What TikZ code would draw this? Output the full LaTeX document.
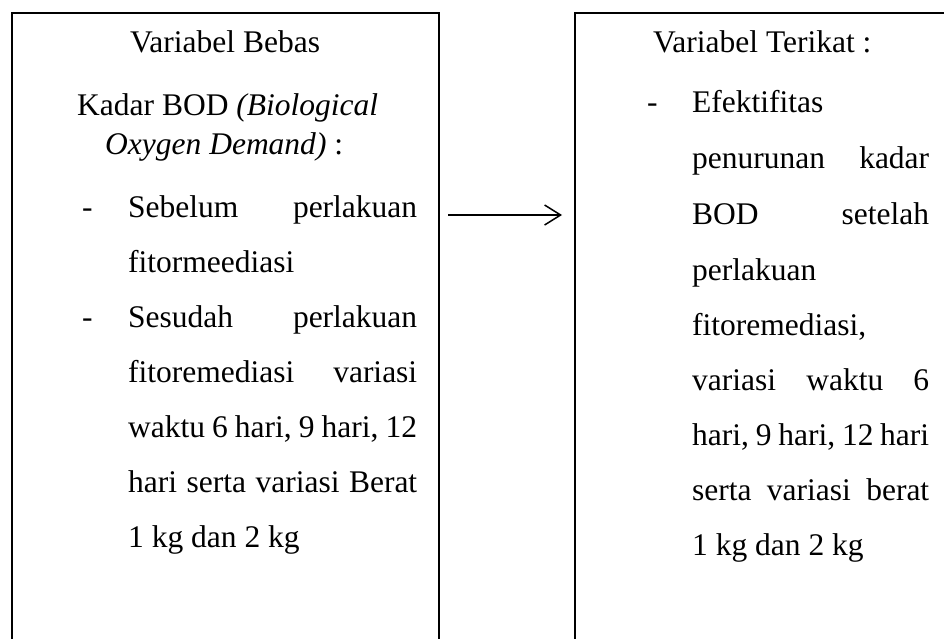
\documentclass[tikz,border=0pt]{standalone}
\usepackage{fontspec}
\setmainfont{Liberation Serif}
\usetikzlibrary{arrows.meta}
\newlength\colL \setlength\colL{289pt}
\newlength\colR \setlength\colR{237pt}
\newcommand\jlL[1]{\hbox to \colL{#1}}
\newcommand\jlR[1]{\hbox to \colR{#1}}
\begin{document}
\begin{tikzpicture}[x=1pt,y=-1pt,
  boxstyle/.style={draw=black,line width=2pt,rectangle,inner sep=0pt},
  txt/.style={inner sep=0pt,anchor=base west,font=\fontsize{31.5}{37}\selectfont},
  arr/.style={line width=1.5pt,-{Straight Barb[length=16pt,width=20pt,line width=1.5pt]}}]
\useasboundingbox (0,0) rectangle (944,639);
\clip (0,0) rectangle (944,639);
\fill[white] (0,0) rectangle (944,639);
% boxes
\node[boxstyle,minimum width=427pt,minimum height=660pt,anchor=north west] (lb) at (11,12) {};
\node[boxstyle,minimum width=400pt,minimum height=660pt,anchor=north west] (rb) at (574,12) {};
% left texts
\node[txt] (l1) at (130,53) {Variabel Bebas};
\node[txt] (l2) at (77,116) {Kadar BOD \textit{(Biological}};
\node[txt] (l3) at (105,155) {\textit{Oxygen Demand)} :};
\node[txt] (d1) at (82,217) {-};
\node[txt] (l4) at (128,217) {\jlL{Sebelum\hfill perlakuan}};
\node[txt] (l5) at (128,272) {fitormeediasi};
\node[txt] (d2) at (82,327) {-};
\node[txt] (l6) at (128,327) {\jlL{Sesudah\hfill perlakuan}};
\node[txt] (l7) at (128,382) {\jlL{fitoremediasi\hfill variasi}};
\node[txt] (l8) at (128,437) {\jlL{waktu 6 hari, 9 hari, 12}};
\node[txt] (l9) at (128,492) {\jlL{hari serta variasi Berat}};
\node[txt] (l10) at (128,547) {1 kg dan 2 kg};
% right texts
\node[txt] (r1) at (653,53) {Variabel Terikat :};
\node[txt] (d3) at (647,113) {-};
\node[txt] (r2) at (692,113) {Efektifitas};
\node[txt] (r3) at (692,168) {\jlR{penurunan\hfill kadar}};
\node[txt] (r4) at (692,224) {\jlR{BOD\hfill setelah}};
\node[txt] (r5) at (692,280) {perlakuan};
\node[txt] (r6) at (692,335) {fitoremediasi,};
\node[txt] (r7) at (692,390) {\jlR{variasi\hfill waktu\hfill 6}};
\node[txt] (r8) at (692,445) {\jlR{hari, 9 hari, 12 hari}};
\node[txt] (r9) at (692,500) {\jlR{serta\hfill variasi\hfill berat}};
\node[txt] (r10) at (692,555) {1 kg dan 2 kg};
% arrow
\coordinate (a1) at (448,215);
\coordinate (a2) at (562,215);
\draw[arr] (a1) -- (a2);
\end{tikzpicture}
\end{document}
